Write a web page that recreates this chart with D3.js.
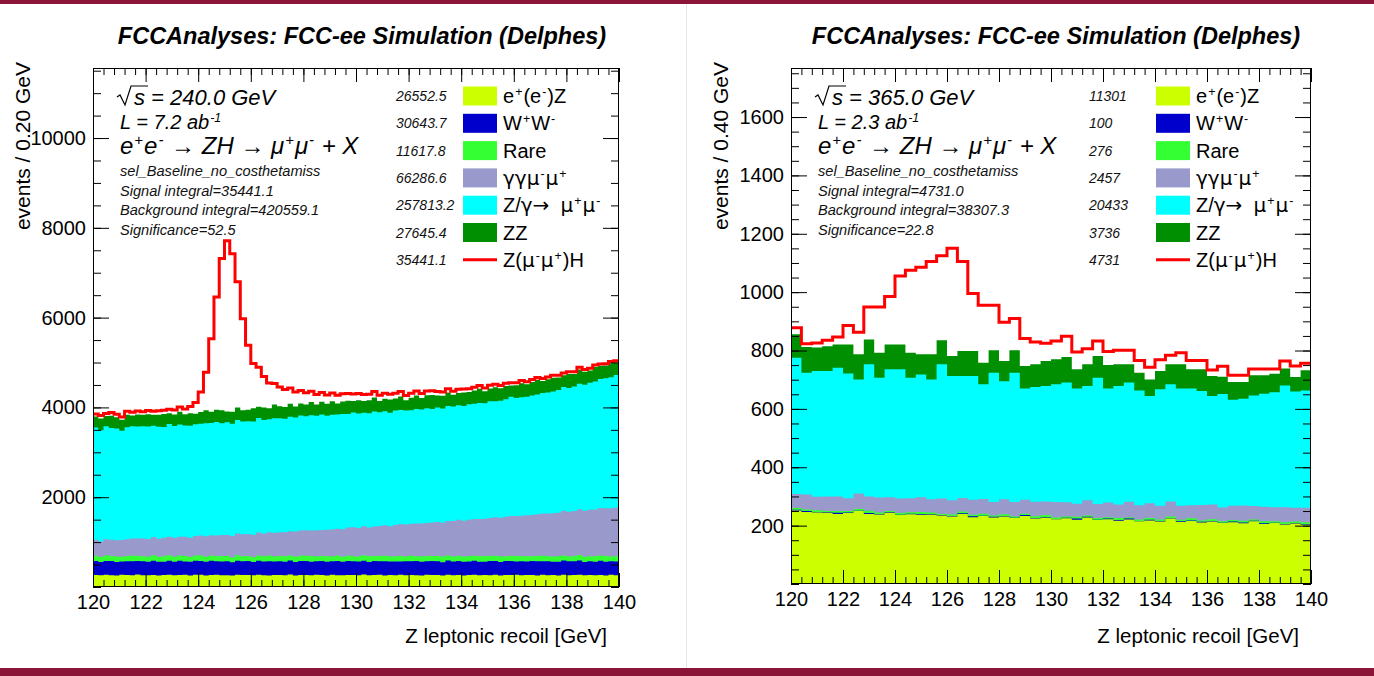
<!DOCTYPE html>
<html>
<head>
<meta charset="utf-8">
<script src="https://cdn.jsdelivr.net/npm/d3@7"></script>
<style>
html, body { margin: 0; padding: 0; background: #ffffff; }
svg { display: block; font-family: "Liberation Sans", Arial, Helvetica, sans-serif; }
</style>
</head>
<body>
<svg id="canvas" width="1374" height="676"></svg>
<script>
// ---------------------------------------------------------------
// Z leptonic recoil mass, stacked backgrounds + ZH signal
// ---------------------------------------------------------------
const recoilRange = [120, 140];
const xTickLabels = [120, 122, 124, 126, 128, 130, 132, 134, 136, 138, 140];
const yTickLabels240 = [2000, 4000, 6000, 8000, 10000];
const yTickLabels365 = [200, 400, 600, 800, 1000, 1200, 1400, 1600];

const processNames = ["e^{+}(e^{-})Z", "W^{+}W^{-}", "Rare", "γγμ^{-}μ^{+}", "Z/γ→\u00a0\u00a0μ^{+}μ^{-}", "ZZ", "Z(μ^{-}μ^{+})H"];
const processKeys = ["eez", "ww", "rare", "aamumu", "zmumu", "zz"];

// sqrt(s) = 240 GeV, 0.2 GeV bins
const eez240 = [
  268,259,274,262,255,271,266,260,276,264, 262,270,257,268,273,259,265,271,256,274,
  271,258,266,275,261,263,254,272,267,268, 259,273,264,256,270,267,262,277,258,269,
  266,261,272,268,257,274,263,259,270,265, 264,276,260,266,271,255,269,262,273,259,
  270,263,258,272,265,268,256,274,261,268, 257,267,273,261,269,264,272,258,266,268,
  273,260,265,270,258,271,262,267,255,274, 261,269,275,259,266,262,270,257,272,264];
const ww240 = [
  312,298,305,318,301,296,309,314,303,308, 300,315,307,296,311,304,319,298,306,308,
  309,302,316,299,305,313,297,310,304,309, 297,311,304,317,300,308,302,315,299,311,
  314,303,299,310,306,297,316,301,309,309, 305,310,298,313,302,318,300,307,296,315,
  301,316,306,299,312,303,297,314,305,311, 308,299,313,304,296,317,306,300,312,309,
  296,312,302,309,315,300,311,298,307,314, 311,304,317,298,308,302,313,306,299,306];
const rare240 = [
  118,110,124,113,121,109,117,126,112,112, 114,122,108,119,125,111,116,120,107,120,
  121,113,118,110,123,116,108,124,115,114, 109,120,115,126,112,118,121,107,119,115,
  117,124,111,115,120,108,123,114,118,112, 112,119,125,110,117,121,109,118,124,107,
  123,108,117,122,114,119,126,111,113,109, 115,121,110,118,126,112,116,120,109,115,
  120,112,119,108,116,124,113,117,121,112, 110,117,122,115,109,120,118,125,111,115];
const aamumu240 = [
  352,348,361,357,366,372,369,380,388,397, 392,405,401,412,409,421,418,432,430,436,
  444,455,451,463,470,468,479,485,491,487, 501,512,508,521,526,524,537,543,561,566,
  565,572,583,579,592,601,598,614,627,645, 634,648,645,661,668,679,675,692,708,712,
  714,726,735,731,748,757,754,773,792,809, 798,812,819,833,828,846,857,862,879,891,
  893,903,912,918,931,942,949,961,972,1001, 995,1003,1019,1024,1038,1042,1061,1068,1072,1086];
const zmumu240 = [
  2500,2478,2515,2490,2486,2430,2497,2503,2494,2497, 2508,2481,2497,2470,2515,2489,2502,2476,2494,2488,
  2492,2521,2503,2530,2487,2511,2499,2526,2508,2513, 2522,2546,2531,2518,2553,2540,2527,2549,2536,2558,
  2540,2563,2548,2571,2537,2555,2544,2566,2532,2554, 2550,2528,2544,2561,2533,2539,2526,2552,2541,2536,
  2531,2549,2538,2556,2527,2552,2541,2560,2547,2549, 2553,2571,2566,2582,2575,2596,2589,2608,2617,2653,
  2626,2641,2637,2662,2668,2684,2695,2712,2731,2754, 2756,2772,2795,2809,2828,2850,2869,2893,2918,2953];
const zz240 = [
  248,262,231,275,254,246,281,239,270,256, 272,244,266,289,235,258,283,249,277,234,
  259,286,247,271,293,240,268,282,251,255, 291,254,276,244,302,267,258,289,249,267,
  262,298,251,284,270,305,246,279,291,256, 295,261,287,310,254,282,299,268,301,230,
  276,305,258,291,312,266,284,301,262,277, 303,271,296,318,265,289,310,277,294,254,
  285,312,279,301,326,270,297,308,281,263, 309,282,318,291,274,323,298,286,312,274];
const zh240 = [
  58,63,55,70,66,61,74,69,78,72, 81,76,88,84,93,99,108,121,150,250,
  450,850,1630,2510,3380,3800,3520,2800,2040,1440, 1000,880,690,560,470,430,392,350,320,290,
  265,240,222,205,192,180,180,171,163,156, 149,143,137,132,127,122,118,114,110,106,
  103,100,97,94,91,89,86,84,82,80, 78,76,74,73,71,70,64,63,62,60,
  59,58,57,56,55,54,53,52,51,51, 50,49,49,48,47,47,40,40,39,39];
const legendTotals240 = ["26552.5", "30643.7", "11617.8", "66286.6", "257813.2", "27645.4", "35441.1"];
const infoLines240 = ["sel_Baseline_no_costhetamiss", "Signal integral=35441.1", "Background integral=420559.1", "Significance=52.5"];

// sqrt(s) = 365 GeV, 0.4 GeV bins
const eez365 = [
  252,247,245,244,240,243,250,240,238,244, 236,239,237,237,235,231,240,229,233,228,
  231,226,233,224,227,222,225,220,228,219, 222,217,221,215,218,214,224,213,216,211,
  214,209,212,208,215,206,209,204,207,203];
const ww365 = [
  2,3,1,2,4,2,1,3,2,2, 1,2,3,2,1,2,2,3,1,2, 2,1,3,2,2,1,2,4,2,1, 2,2,3,1,2,2,1,3,2,2, 2,1,2,3,2,2,1,2,2,2];
const rare365 = [
  6,5,7,4,6,5,6,8,5,4, 6,5,7,6,4,5,6,5,7,5, 6,4,5,6,7,5,4,6,5,6, 5,7,4,5,6,5,6,4,7,5, 6,5,5,6,4,7,5,6,5,7];
const aamumu365 = [
  48,52,46,50,50,44,53,49,51,47, 50,48,50,45,53,49,47,52,50,46, 51,50,48,50,47,53,49,45,52,48,
  50,46,54,49,51,47,52,48,45,53, 50,47,49,52,46,50,48,51,47,49];
const zmumu365 = [
  467,417,431,430,441,427,391,453,411,439, 443,413,421,411,460,426,418,424,393,443,
  405,443,381,393,395,403,410,395,391,433, 391,406,408,393,367,399,401,402,400,390,
  372,389,363,366,379,387,394,417,399,402];
const zz365 = [
  81,88,80,85,80,100,86,85,85,85, 85,85,69,86,82,68,85,85,74,77, 69,77,77,78,86,86,88,66,75,74,
  80,75,63,61,57,63,69,83,66,75, 69,59,61,57,69,63,63,58,49,69];
const zh365 = [
  22,11,16,20,25,65,76,111,157,164, 234,283,298,318,290,369,307,197,197,154,
  133,109,94,76,61,63,71,59,53,52, 47,48,48,42,42,38,31,39,30,30,
  20,36,23,23,22,22,17,26,38,24];
const legendTotals365 = ["11301", "100", "276", "2457", "20433", "3736", "4731"];
const infoLines365 = ["sel_Baseline_no_costhetamiss", "Signal integral=4731.0", "Background integral=38307.3", "Significance=22.8"];

// ---------------------------------------------------------------
const fillColors = ["#ccff00", "#0000cc", "#33ff33", "#9999cc", "#00ffff", "#008f00"];
const signalColor = "#ff0000";
const maroon = "#8a1538";
const symbolFont = "'DejaVu Sans', sans-serif";

const svg = d3.select("#canvas");
svg.append("rect").attr("x", 0).attr("y", 0).attr("width", 1374).attr("height", 4).attr("fill", maroon);
svg.append("rect").attr("x", 0).attr("y", 668).attr("width", 1374).attr("height", 8).attr("fill", maroon);
svg.append("line").attr("x1", 686.5).attr("x2", 686.5).attr("y1", 4).attr("y2", 668)
  .attr("stroke", "#e4e4e4").attr("stroke-width", 1);

// text with ^{...} superscripts; greek letters and arrows optionally in a wider symbol face
function richText(sel, str, fs, symbols) {
  const lift = 0.36 * fs;
  const tokens = str.split(/(\^\{[^}]*\})/).filter(s => s.length);
  let raised = false;
  tokens.forEach(tok => {
    const m = tok.match(/^\^\{(.*)\}$/);
    if (m) {
      sel.append("tspan").attr("dx", 1).attr("dy", raised ? 0 : -lift)
        .attr("font-size", 0.62 * fs).text(m[1]);
      raised = true;
    } else {
      const runs = tok.match(/[γμ→]+|[^γμ→]+/g);
      runs.forEach((run, j) => {
        const t = sel.append("tspan").attr("font-size", fs).text(run);
        if (symbols && /[γμ→]/.test(run)) t.attr("font-family", symbolFont);
        if (j === 0 && raised) t.attr("dy", lift).attr("dx", 1);
      });
      raised = false;
    }
  });
}

function drawPanel(p) {
  const g = svg.append("g");
  const x = d3.scaleLinear().domain(recoilRange).range([p.left, p.right]);
  const y = d3.scaleLinear().domain([0, p.yMax]).range([p.bottom, p.top]);
  const n = p.series[0].length;
  const w = (recoilRange[1] - recoilRange[0]) / n;
  const rows = d3.range(n).map(i => {
    const o = {};
    processKeys.forEach((k, j) => { o[k] = p.series[j][i]; });
    return o;
  });
  const layers = d3.stack().keys(processKeys)(rows);

  const clipId = "clip" + p.id;
  g.append("clipPath").attr("id", clipId).append("rect")
    .attr("x", p.left).attr("y", p.top).attr("width", p.right - p.left).attr("height", p.bottom - p.top);
  const plot = g.append("g").attr("clip-path", `url(#${clipId})`);

  const stepPoints = (vals) => {
    const pts = [];
    vals.forEach((v, i) => {
      const x0 = recoilRange[0] + i * w;
      pts.push([x0, v], [x0 + w, v]);
    });
    return pts;
  };
  const area = d3.area().x(d => x(d[0])).y0(y(0)).y1(d => y(d[1]));
  // cumulative fills, painted from the top of the stack downwards
  for (let k = layers.length - 1; k >= 0; k--) {
    plot.append("path")
      .attr("d", area(stepPoints(layers[k].map(d => d[1]))))
      .attr("fill", fillColors[k]);
  }
  const topLayer = layers[layers.length - 1];
  const withSignal = topLayer.map((d, i) => d[1] + p.signal[i]);
  plot.append("path")
    .attr("d", d3.line().x(d => x(d[0])).y(d => y(d[1]))(stepPoints(withSignal)))
    .attr("fill", "none").attr("stroke", signalColor).attr("stroke-width", 3)
    .attr("stroke-linejoin", "miter");

  // axes, ticks pointing into the frame on all four sides
  const xMinor = d3.range(recoilRange[0], recoilRange[1] + 1e-9, 0.4);
  const yMinor = d3.range(0, p.yMax, p.yMinorStep);
  const styleAxis = sel => {
    sel.select(".domain").remove();
    sel.selectAll("line").attr("stroke", "#000").attr("stroke-width", 1);
    sel.selectAll("text").attr("font-size", 20).attr("fill", "#000")
      .attr("font-family", "'Liberation Sans', Arial, sans-serif");
  };
  g.append("g").attr("transform", `translate(0,${p.bottom})`)
    .call(d3.axisBottom(x).tickValues(xMinor).tickSize(-7).tickFormat("")).call(styleAxis);
  g.append("g").attr("transform", `translate(0,${p.bottom})`)
    .call(d3.axisBottom(x).tickValues(xTickLabels).tickSize(-14).tickPadding(8).tickFormat(d3.format("d")))
    .call(styleAxis);
  g.append("g").attr("transform", `translate(0,${p.top})`)
    .call(d3.axisTop(x).tickValues(xMinor).tickSize(-7).tickFormat("")).call(styleAxis);
  g.append("g").attr("transform", `translate(0,${p.top})`)
    .call(d3.axisTop(x).tickValues(xTickLabels).tickSize(-14).tickFormat("")).call(styleAxis);
  g.append("g").attr("transform", `translate(${p.left},0)`)
    .call(d3.axisLeft(y).tickValues(yMinor).tickSize(-8).tickFormat("")).call(styleAxis);
  g.append("g").attr("transform", `translate(${p.left},0)`)
    .call(d3.axisLeft(y).tickValues(p.yTicks).tickSize(-16).tickPadding(7).tickFormat(d3.format("d")))
    .call(styleAxis);
  g.append("g").attr("transform", `translate(${p.right},0)`)
    .call(d3.axisRight(y).tickValues(yMinor).tickSize(-8).tickFormat("")).call(styleAxis);
  g.append("g").attr("transform", `translate(${p.right},0)`)
    .call(d3.axisRight(y).tickValues(p.yTicks).tickSize(-16).tickFormat("")).call(styleAxis);

  g.append("rect").attr("x", p.left + 0.5).attr("y", p.top + 0.5)
    .attr("width", p.right - p.left - 1).attr("height", p.bottom - p.top - 1)
    .attr("fill", "none").attr("stroke", "#000").attr("stroke-width", 1);

  // titles
  g.append("text").attr("x", p.titleX).attr("y", 44).attr("text-anchor", "middle")
    .attr("font-size", 23.5).attr("font-weight", "bold").attr("font-style", "italic")
    .text("FCCAnalyses: FCC-ee Simulation (Delphes)");
  g.append("text").attr("x", p.right - 12).attr("y", 643).attr("text-anchor", "end")
    .attr("font-size", 20.5).text("Z leptonic recoil [GeV]");
  g.append("text").attr("transform", `translate(${p.left - 63},62) rotate(-90)`)
    .attr("text-anchor", "end").attr("font-size", 21).text(p.yTitle);

  // info block
  const tx = p.left + 27;
  g.append("path")
    .attr("d", `M${tx - 3},97 L${tx},95 L${tx + 5},105 L${tx + 11},86 L${tx + 28},86`)
    .attr("fill", "none").attr("stroke", "#000").attr("stroke-width", 1.2);
  g.append("text").attr("x", tx + 14).attr("y", 105).attr("font-size", 22).attr("font-style", "italic")
    .text(p.energyText);
  richText(g.append("text").attr("x", tx).attr("y", 129).attr("font-style", "italic"), p.lumiText, 20, false);
  richText(g.append("text").attr("x", tx).attr("y", 154).attr("font-style", "italic"),
    "e^{+}e^{-} → ZH → μ^{+}μ^{-} + X", 24, false);
  p.info.forEach((line, i) => {
    g.append("text").attr("x", tx).attr("y", 176 + i * 19.5).attr("font-size", 14.6)
      .attr("font-style", "italic").attr("fill", "#111").text(line);
  });

  // legend
  processNames.forEach((name, i) => {
    const cy = 96 + i * 27.3;
    g.append("text").attr("x", p.legendX).attr("y", cy + 5).attr("font-size", 14)
      .attr("font-style", "italic").attr("fill", "#111").text(p.totals[i]);
    if (i < fillColors.length) {
      g.append("rect").attr("x", p.legendX + 67).attr("y", cy - 9.5).attr("width", 34).attr("height", 19)
        .attr("fill", fillColors[i]);
    } else {
      g.append("line").attr("x1", p.legendX + 67).attr("x2", p.legendX + 101).attr("y1", cy).attr("y2", cy)
        .attr("stroke", signalColor).attr("stroke-width", 3);
    }
    richText(g.append("text").attr("x", p.legendX + 107).attr("y", cy + 7), name, 20, true);
  });
}

drawPanel({
  id: "240", left: 93, right: 619, top: 68, bottom: 587, yMax: 11560,
  yTicks: yTickLabels240, yMinorStep: 500, titleX: 362,
  series: [eez240, ww240, rare240, aamumu240, zmumu240, zz240], signal: zh240,
  yTitle: "events / 0.20 GeV", energyText: "s = 240.0 GeV", lumiText: "L = 7.2 ab^{-1}",
  info: infoLines240, totals: legendTotals240, legendX: 396
});
drawPanel({
  id: "365", left: 791, right: 1311, top: 68, bottom: 584, yMax: 1768,
  yTicks: yTickLabels365, yMinorStep: 50, titleX: 1056,
  series: [eez365, ww365, rare365, aamumu365, zmumu365, zz365], signal: zh365,
  yTitle: "events / 0.40 GeV", energyText: "s = 365.0 GeV", lumiText: "L = 2.3 ab^{-1}",
  info: infoLines365, totals: legendTotals365, legendX: 1089
});
</script>
</body>
</html>
